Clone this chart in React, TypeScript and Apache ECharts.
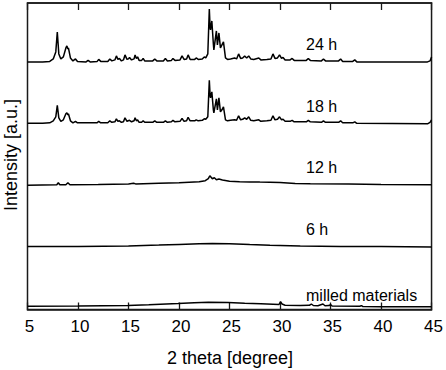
import React, { useEffect, useRef } from "react";
import * as echarts from "echarts";

// x: 2 theta [degree]; y: stacked intensity (arbitrary units, offset traces)
const xTicks = [5, 10, 15, 20, 25, 30, 35, 40, 45];

const seriesNames = ["24 h", "18 h", "12 h", "6 h", "milled materials"];

const pattern24h: number[][] = [
  [5.0, 248], [6.5, 248], [7.2, 248.5], [7.55, 251], [7.8, 258], [7.95, 278], [8.1, 256], [8.3, 251],
  [8.55, 253], [8.8, 262], [8.9, 264], [9.0, 261], [9.05, 262], [9.25, 252], [9.5, 249], [9.75, 251],
  [9.95, 248.5], [10.8, 248], [11.0, 249.5], [11.2, 248], [11.9, 248.5], [12.05, 250.5], [12.25, 248.5],
  [12.95, 248.5], [13.15, 251], [13.35, 249], [13.65, 250], [13.8, 254], [13.95, 250.5], [14.1, 251.5],
  [14.3, 249], [14.5, 250], [14.65, 255], [14.85, 250.5], [15.0, 251], [15.1, 252.5], [15.3, 250],
  [15.55, 251], [15.65, 255], [15.78, 251.5], [15.9, 253], [16.05, 249.5], [16.3, 249.5], [16.45, 251.5],
  [16.6, 249], [17.4, 249], [17.6, 251], [17.8, 249], [18.45, 249], [18.65, 251.5], [18.85, 249],
  [19.25, 249.5], [19.4, 251.5], [19.6, 249.5], [20.1, 250], [20.3, 254], [20.5, 250.5], [20.75, 251],
  [20.9, 255], [21.1, 250.5], [21.55, 250.5], [21.7, 252], [21.9, 250.5], [22.3, 251], [22.5, 253],
  [22.65, 252], [22.85, 256], [23.0, 301], [23.08, 282], [23.12, 280], [23.25, 289], [23.4, 266], [23.45, 260],
  [23.7, 279], [23.8, 265], [23.95, 277], [24.1, 262], [24.25, 265], [24.4, 268], [24.6, 252],
  [24.8, 250.5], [25.1, 251], [25.5, 252], [25.7, 251], [25.9, 256], [26.1, 251.5], [26.3, 252],
  [26.5, 254], [26.7, 252], [26.9, 254], [27.1, 251], [27.4, 250.5], [27.9, 252], [28.1, 250],
  [28.7, 250.5], [29.1, 251], [29.3, 256], [29.5, 251.5], [29.75, 252], [29.95, 255], [30.15, 251.5],
  [30.3, 252.5], [30.5, 250], [31.0, 250], [31.2, 251.5], [31.4, 249.5], [32.6, 249.5], [32.8, 251.5],
  [33.0, 249.5], [34.1, 249], [34.3, 251], [34.5, 249], [35.8, 249], [36.0, 251], [36.2, 248.5],
  [37.2, 248.5], [37.4, 250], [37.6, 248], [40, 248], [44.6, 248], [44.85, 249], [45, 253],
];

const pattern18h: number[][] = [
  [5, 186.5], [6.5, 186.5], [7.2, 187], [7.55, 189], [7.8, 193], [7.95, 204.5], [8.1, 192], [8.3, 188.5],
  [8.55, 190], [8.8, 196], [8.9, 197], [9.0, 195], [9.05, 196], [9.25, 189], [9.5, 187], [9.75, 188.5],
  [9.95, 187], [11.9, 187], [12.05, 188.5], [12.25, 187], [12.95, 187], [13.15, 189], [13.35, 187.5],
  [13.65, 188], [13.8, 191], [13.95, 188.5], [14.1, 189], [14.3, 187.5], [14.5, 188], [14.65, 192],
  [14.85, 188.5], [15.1, 189.5], [15.3, 188], [15.55, 189], [15.65, 192], [15.78, 189], [15.9, 190],
  [16.05, 187.5], [16.3, 187.5], [16.45, 189], [16.6, 187.5], [17.4, 187.5], [17.6, 189], [17.8, 187.5],
  [18.45, 187.5], [18.65, 189], [18.85, 187.5], [19.25, 188], [19.4, 189.5], [19.6, 188], [20.1, 188.5],
  [20.3, 191.5], [20.5, 188.5], [20.75, 189], [20.9, 192.5], [21.1, 189], [21.55, 189], [21.7, 190],
  [21.9, 189], [22.3, 189.5], [22.5, 191], [22.65, 190.5], [22.85, 193], [23.0, 229.5], [23.08, 214],
  [23.12, 212], [23.25, 218], [23.4, 200], [23.45, 197], [23.7, 211], [23.8, 200], [23.95, 212], [24.1, 198],
  [24.25, 200], [24.4, 203], [24.6, 190], [24.8, 189], [25.1, 189.5], [25.5, 190], [25.7, 189.5],
  [25.9, 194], [26.1, 190], [26.3, 190.5], [26.5, 192], [26.7, 190.5], [26.9, 193], [27.1, 189.5],
  [27.4, 189], [27.9, 190], [28.1, 188.5], [28.7, 189], [29.1, 189.5], [29.3, 194], [29.5, 190],
  [29.75, 190.5], [29.95, 193], [30.15, 190], [30.3, 190.5], [30.5, 188.5], [31.0, 188.5], [31.2, 189.5],
  [31.4, 188], [32.6, 188], [32.8, 189.5], [33.0, 188], [34.1, 187.5], [34.3, 189], [34.5, 187.5],
  [35.8, 187.5], [36.0, 189], [36.2, 187], [37.2, 187], [37.4, 188], [37.6, 186.5], [44.6, 186],
  [44.85, 187.5], [45, 190],
];

const pattern12h: number[][] = [
  [5, 124.5], [7.9, 125], [8.05, 127], [8.2, 125], [8.8, 125], [9.0, 127], [9.2, 125], [12, 125.3],
  [15, 125.7], [15.5, 126.5], [15.7, 125.8], [18, 126.5], [20, 127], [21, 127.5], [22, 128],
  [22.6, 129], [22.9, 131], [23.05, 134], [23.3, 131], [23.5, 132], [23.7, 130], [23.95, 130.8],
  [24.3, 129.8], [25, 128.5], [26, 128], [27, 127.8], [28, 127.6], [30, 127.3], [31.5, 126.2],
  [33, 126], [36.8, 125.7], [40, 125.3], [45, 125],
];

const pattern6h: number[][] = [
  [5, 63], [10, 63.2], [15, 63.7], [18, 64.5], [20, 65.2], [22, 65.8], [23.3, 66.2], [25, 65.8],
  [27, 65], [29, 64.3], [32, 63.6], [36, 63.2], [40, 63], [45, 62.7],
];

const patternMilled: number[][] = [
  [5, 3.3], [10, 3.4], [14.95, 4], [17, 4.8], [19.9, 6], [21.5, 6.8], [22.9, 7.3], [24.85, 7],
  [26.5, 6.3], [28.1, 5.7], [29.9, 5], [30.05, 7.8], [30.2, 5.5], [30.5, 4.3], [32, 4], [32.9, 4.2],
  [33.1, 5.5], [33.3, 4], [33.75, 3.8], [34.25, 5.5], [34.45, 3.8], [34.85, 4], [35.0, 5], [35.15, 3.5],
  [37.9, 3.2], [38.05, 3.9], [38.2, 3], [40, 2.8], [45, 2.7],
];

const patterns = [pattern24h, pattern18h, pattern12h, pattern6h, patternMilled];

const FONT = '"Liberation Sans", Arial, Helvetica, sans-serif';

export default function App() {
  const ref = useRef<HTMLDivElement>(null);

  useEffect(() => {
    document.body.style.margin = "0";
    if (!ref.current) return;
    const chart = echarts.init(ref.current, null, { renderer: "svg" });

    const labelPos = [
      { x: 306, y: 44.5 },
      { x: 306, y: 106 },
      { x: 306, y: 167.5 },
      { x: 306, y: 229 },
      { x: 306, y: 295.5 },
    ];

    const textStyle = (text: string, size: number) => ({
      text,
      font: `${size}px ${FONT}`,
      fill: "#000",
    });

    chart.setOption({
      animation: false,
      backgroundColor: "#fff",
      grid: {
        left: 27.5,
        right: 14,
        top: 3,
        bottom: 60.5,
        show: true,
        borderColor: "#1a1a1a",
        borderWidth: 1.5,
        backgroundColor: "transparent",
      },
      xAxis: [
        {
          type: "value",
          min: 5,
          max: 45,
          interval: 5,
          position: "bottom",
          axisLine: { show: true, lineStyle: { color: "#1a1a1a", width: 1.5 } },
          axisTick: { show: true, inside: true, length: 7, lineStyle: { color: "#1a1a1a", width: 1.3 } },
          axisLabel: {
            show: true,
            fontSize: 17,
            fontFamily: FONT,
            color: "#000",
            margin: 8,
            padding: [0, 0, 0, 4],
            formatter: (v: number) => (xTicks.includes(v) ? String(v) : ""),
          },
          splitLine: { show: false },
        },
        {
          type: "value",
          min: 5,
          max: 45,
          interval: 5,
          position: "top",
          axisLine: { show: true, lineStyle: { color: "#1a1a1a", width: 1.5 } },
          axisTick: { show: true, inside: true, length: 7, lineStyle: { color: "#1a1a1a", width: 1.3 } },
          axisLabel: { show: false },
          splitLine: { show: false },
        },
      ],
      yAxis: {
        type: "value",
        min: 0,
        max: 307,
        axisLine: { show: false },
        axisTick: { show: false },
        axisLabel: { show: false },
        splitLine: { show: false },
      },
      series: patterns.map((p, i) => ({
        name: seriesNames[i],
        type: "line",
        data: p,
        showSymbol: false,
        symbol: "none",
        lineStyle: { color: "#000", width: 1.5 },
        xAxisIndex: 0,
        yAxisIndex: 0,
        z: 3,
      })),
      graphic: [
        ...seriesNames.map((name, i) => ({
          type: "text",
          x: labelPos[i].x,
          y: labelPos[i].y,
          style: {
            ...textStyle(name, 16),
            textAlign: "left",
            align: "left",
            textVerticalAlign: "middle",
            verticalAlign: "middle",
          },
        })),
        {
          type: "text",
          x: 230,
          y: 358,
          style: {
            ...textStyle("2 theta [degree]", 18),
            textAlign: "center",
            align: "center",
            textVerticalAlign: "middle",
            verticalAlign: "middle",
          },
        },
        {
          type: "text",
          x: 11,
          y: 155,
          rotation: Math.PI / 2,
          style: {
            ...textStyle("Intensity [a.u.]", 18),
            textAlign: "center",
            align: "center",
            textVerticalAlign: "middle",
            verticalAlign: "middle",
          },
        },
      ],
    });

    return () => chart.dispose();
  }, []);

  return (
    <div
      ref={ref}
      style={{ position: "fixed", left: 0, top: 0, width: 446, height: 370 }}
    />
  );
}
